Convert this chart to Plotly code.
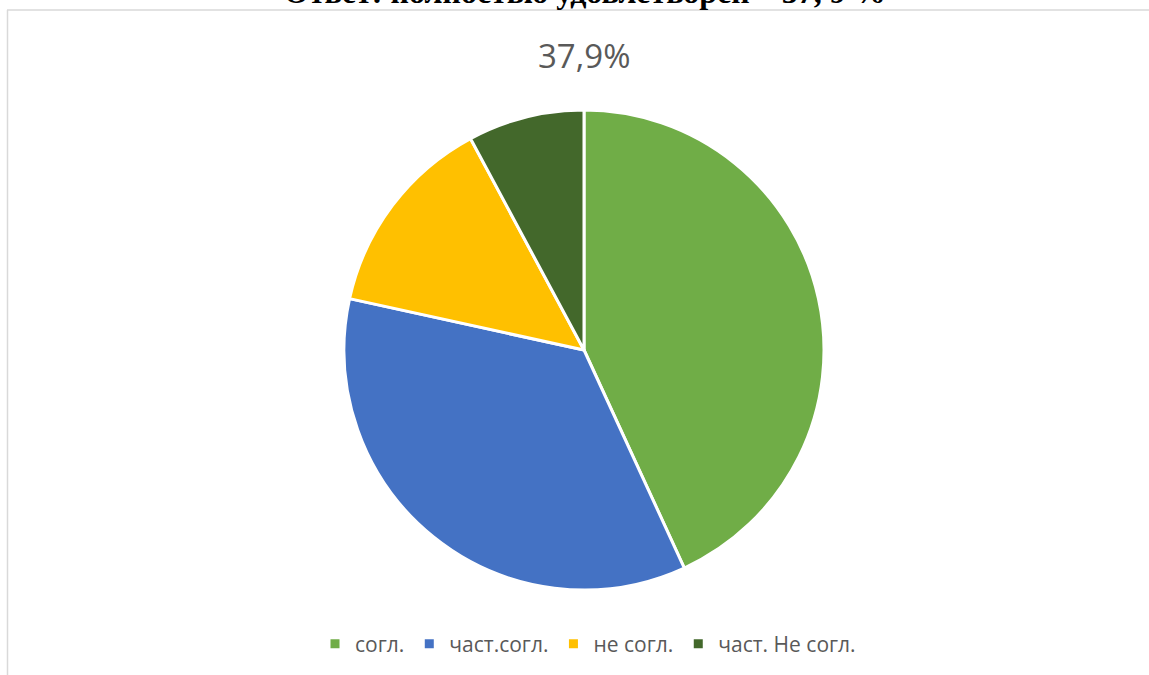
import plotly.graph_objects as go

labels = ["согл.", "част.согл.", "не согл.", "част. Не согл."]
values = [22, 18, 7, 4]
colors = ["#70AD47", "#4472C4", "#FFC000", "#43682B"]
chart_title = "37,9%"
page_title = "Ответ: полностью удовлетворен – 37, 9 %"

W, H = 1149, 675

def px(x):
    return x / W

def py(y):
    return 1 - y / H

fig = go.Figure()
fig.add_trace(go.Pie(
    labels=labels,
    values=values,
    marker=dict(colors=colors, line=dict(color="white", width=3)),
    sort=False,
    direction="clockwise",
    rotation=0,
    textinfo="none",
    hoverinfo="label+percent",
    domain=dict(x=[px(344), px(824)], y=[py(590), py(110)]),
))

fig.add_annotation(
    text="<b>" + page_title + "</b>",
    x=px(585), y=py(12), xref="paper", yref="paper",
    xanchor="center", yanchor="bottom", showarrow=False,
    font=dict(family="Liberation Serif", size=32, color="black"),
)
fig.add_annotation(
    text=chart_title,
    x=px(584), y=py(55), xref="paper", yref="paper",
    xanchor="center", yanchor="middle", showarrow=False,
    font=dict(family="Open Sans", size=33, color="#595959"),
)

fig.add_shape(type="line", xref="paper", yref="paper",
              x0=px(7), x1=1, y0=py(10), y1=py(10),
              line=dict(color="#d9d9d9", width=1.5))
fig.add_shape(type="line", xref="paper", yref="paper",
              x0=px(7.5), x1=px(7.5), y0=py(10), y1=0,
              line=dict(color="#d9d9d9", width=1.5))

fig.update_layout(
    width=W, height=H,
    margin=dict(l=0, r=0, t=0, b=0),
    paper_bgcolor="white",
    plot_bgcolor="white",
    showlegend=True,
    legend=dict(
        orientation="h",
        x=px(588), y=py(644), xanchor="center", yanchor="middle",
        font=dict(family="Open Sans", size=21, color="#595959"),
        itemwidth=30,
        traceorder="normal",
    ),
)

fig.write_html(
    "out.html",
    config={"displayModeBar": False},
    post_script="document.body.style.margin='0';document.body.style.overflow='hidden';",
)
